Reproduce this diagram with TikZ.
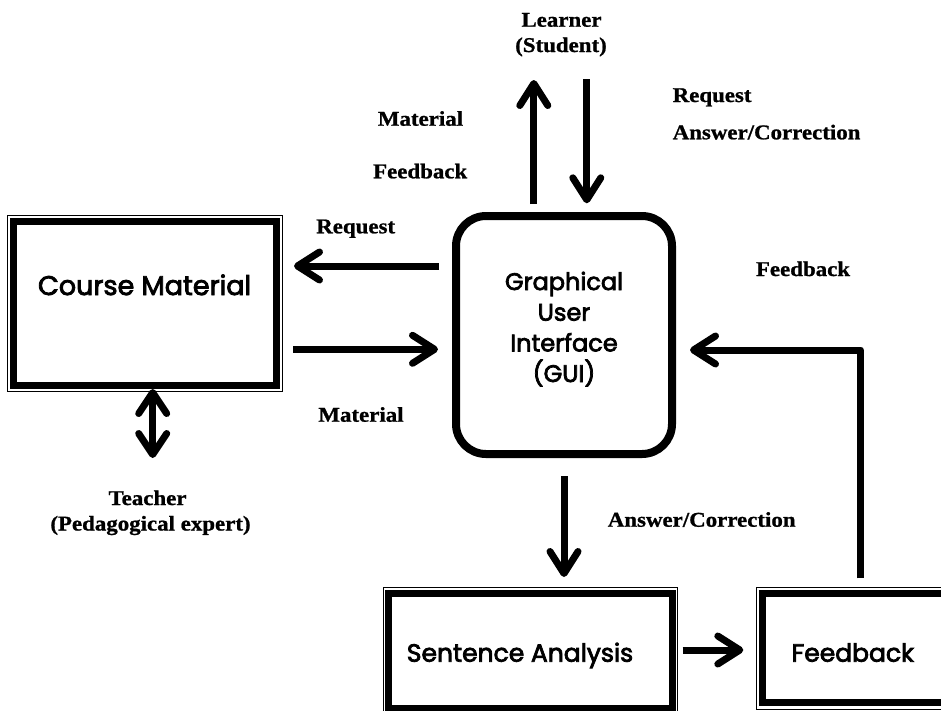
\documentclass[tikz,border=0pt]{standalone}
\usepackage{fontspec}
\setmainfont{Liberation Serif}[FakeStretch=1.09, BoldFeatures={FakeBold=1}]
\newfontfamily\boxfont{Poppins}[FakeBold=3]
\usetikzlibrary{arrows.meta}

\begin{document}
\begin{tikzpicture}[x=1pt,y=-1pt,
  lbl/.style={font=\fontsize{21}{25}\selectfont\bfseries, inner sep=0pt, anchor=base},
  boxtxt/.style={font=\boxfont\fontsize{25}{29}\selectfont, inner sep=0pt, anchor=base},
  guitxt/.style={boxtxt, font=\boxfont\fontsize{24}{28}\selectfont},
  thickframe/.style={draw, line width=7pt, outer sep=0pt, inner sep=0pt, rectangle},
  thinframe/.style={draw, line width=0.9pt},
  arr/.style={line width=7pt, -{Straight Barb[length=22pt,width=28pt,round]}},
  darr/.style={line width=7pt, {Straight Barb[length=21pt,width=28pt,round]}-{Straight Barb[length=21pt,width=28pt,round]}},
]
\useasboundingbox (0,0) rectangle (941,710);
\clip (0,0) rectangle (941,710);

% --- boxes ---
\node[thickframe, minimum width=263pt, minimum height=163.5pt] (cm) at (145,303.25) {};
\draw[thinframe] ([shift={(-6.5pt,6.5pt)}]cm.north west) rectangle ([shift={(6pt,-6.5pt)}]cm.south east);

\node[draw, line width=8pt, rounded corners=30pt, outer sep=0pt, inner sep=0pt,
      minimum width=216pt, minimum height=238pt] (gui) at (564,335) {};

\node[thickframe, minimum width=283.5pt, minimum height=114.7pt] (sa) at (530.25,650.65) {};
\draw[thinframe] ([shift={(-5.5pt,6pt)}]sa.north west) rectangle ([shift={(5.5pt,-6pt)}]sa.south east);

\node[thickframe, minimum width=207.5pt, minimum height=109.8pt] (fb) at (866.25,647.9) {};
\draw[thinframe] ([shift={(-5.8pt,5.8pt)}]fb.north west) rectangle ([shift={(6pt,-6.5pt)}]fb.south east);

% --- box texts ---
\node[boxtxt, font=\boxfont\fontsize{27}{31}\selectfont] (cmtext) at (144.6,295) {Course Material};
\node[guitxt] (g1) at (564,290) {Graphical};
\node[guitxt] (g2) at (564,320.7) {User};
\node[guitxt] (g3) at (564,351.4) {Interface};
\node[guitxt] (g4) at (564,382) {(GUI)};
\node[boxtxt] (satext) at (520,661.7) {Sentence Analysis};
\node[boxtxt] (fbtext) at (852.8,661.7) {Feedback};

% --- outside actors and flow labels ---
\node[lbl] (learner) at (561.5,26.7) {Learner};
\node[lbl] (student) at (561,52) {(Student)};
\node[lbl, anchor=base west] (reqA) at (672.5,102) {Request};
\node[lbl, anchor=base west] (ansA) at (672.5,139.3) {Answer/Correction};
\node[lbl] (matA) at (420.5,125.7) {Material};
\node[lbl] (fbA) at (420.2,178.3) {Feedback};
\node[lbl] (reqB) at (355.7,233.3) {Request};
\node[lbl] (matB) at (361,421.7) {Material};
\node[lbl] (fbB) at (803,276) {Feedback};
\node[lbl] (teacher) at (147.5,505) {Teacher};
\node[lbl] (expert) at (150.5,530.5) {(Pedagogical expert)};
\node[lbl] (ansB) at (701.7,526.7) {Answer/Correction};

% --- connector end points ---
\coordinate (upS) at (533.8,204);
\coordinate (upE) at (533.8,80);
\coordinate (dnS) at (586.8,79.3);
\coordinate (dnE) at (586.8,203.3);
\coordinate (reqS) at (439,266);
\coordinate (reqE) at (294,266);
\coordinate (matS) at (293,349.3);
\coordinate (matE) at (438,349.3);
\coordinate (tchS) at (152.7,389);
\coordinate (tchE) at (152.7,458);
\coordinate (ansS) at (564,476);
\coordinate (ansE) at (564,577);
\coordinate (saS) at (682.5,650);
\coordinate (saE) at (743.3,650);
\coordinate (fbS) at (860.7,578.3);
\coordinate (fbE) at (690,350);

% --- connectors ---
\draw[arr] (upS) -- (upE);
\draw[arr] (dnS) -- (dnE);
\draw[arr] (reqS) -- (reqE);
\draw[arr] (matS) -- (matE);
\draw[darr] (tchS) -- (tchE);
\draw[arr] (ansS) -- (ansE);
\draw[arr] (saS) -- (saE);
\draw[arr, line join=round] (fbS) |- (fbE);
\end{tikzpicture}
\end{document}
